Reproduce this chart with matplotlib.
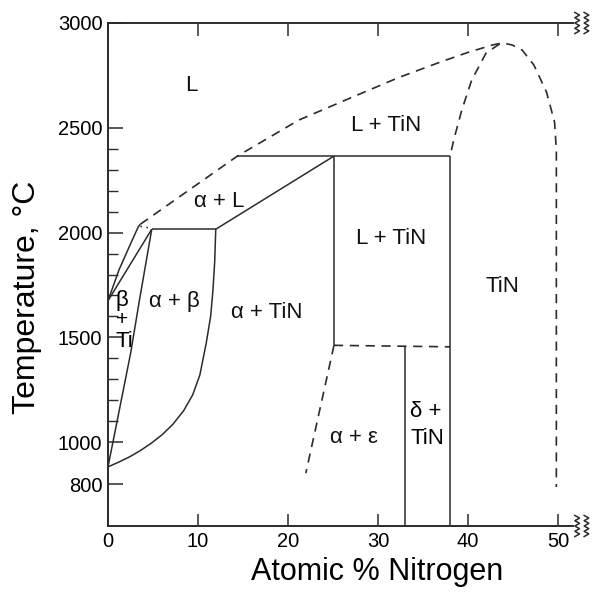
import numpy as np
import matplotlib
matplotlib.use('Agg')
import matplotlib.pyplot as plt
from matplotlib.ticker import FixedLocator

plt.rcParams['font.family'] = ['Liberation Sans', 'DejaVu Sans']

# ---- phase boundaries (at.% N, deg C) ----
# solid lines
beta_liq_x = [0, 1.22, 2.7, 3.37, 3.6]
beta_liq_y = [1675, 1822, 1965, 2028, 2040]
beta_sol_x = [0, 4.86]
beta_sol_y = [1675, 2016]
ab_left_x = [0, 2.52, 3.44, 4.86]
ab_left_y = [882, 1426, 1664, 2016]
ab_right_x = [0, 1.2, 2.4, 3.6, 4.8, 6.0, 7.2, 8.4, 9.4, 10.2, 10.9,
              11.4, 11.65, 11.85, 11.97]
ab_right_y = [882, 905, 930, 960, 995, 1035, 1085, 1150, 1225, 1320, 1470,
              1600, 1720, 1860, 2016]
peri_low_x = [4.86, 11.97]
peri_low_y = [2016, 2016]
aL_x = [11.97, 25.1]
aL_y = [2016, 2365]
peri_high_x = [14.37, 38.0]
peri_high_y = [2365, 2365]
v25_x = [25.1, 25.1]
v25_y = [2365, 1462]
v38_x = [38.0, 38.0]
v38_y = [2365, 600]
v33_x = [33.0, 33.0]
v33_y = [1456, 600]

# dashed lines
dot_x = [3.6, 4.86]
dot_y = [2030, 2020]
liq_x = [3.6, 14.37, 21.2, 26.8, 32.3, 37.0, 40.0, 42.7, 43.8,
         44.9, 46.0, 47.3, 48.7, 49.6, 49.8, 49.8]
liq_y = [2040, 2365, 2537, 2640, 2740, 2815, 2860, 2895, 2905,
         2895, 2871, 2800, 2671, 2528, 2394, 786]
tin_left_x = [43.5, 42.0, 40.4, 39.3, 38.4, 38.0]
tin_left_y = [2900, 2857, 2728, 2585, 2442, 2365]
eut_x = [25.1, 38.0]
eut_y = [1462, 1455]
ae_x = [25.1, 21.97]
ae_y = [1462, 852]

# region labels
labels = ['L', 'L + TiN', 'α + L', 'L + TiN', 'TiN', 'α + β', 'α + TiN', 'α + ε']
label_x = [9.2, 30.85, 12.3, 31.4, 43.8, 7.33, 17.6, 27.3]
label_y = [2704, 2513, 2147, 1973, 1742, 1670, 1621, 1023]

x_ticks = [0, 10, 20, 30, 40, 50]
y_ticks = [800, 1000, 1500, 2000, 2500, 3000]
y_minor = [1100, 1200, 1300, 1400, 1600, 1700, 1800, 1900,
           2100, 2200, 2300, 2400]

ink = '#2b2b2b'
fig = plt.figure(figsize=(5.95, 5.92), dpi=100)
ax = fig.add_axes([108 / 595, 1 - 526 / 592, 465 / 595, 503 / 592])

solid = dict(color=ink, lw=1.1, solid_capstyle='butt', solid_joinstyle='round')
for xs, ys in [(beta_liq_x, beta_liq_y), (beta_sol_x, beta_sol_y),
               (ab_left_x, ab_left_y), (ab_right_x, ab_right_y),
               (peri_low_x, peri_low_y), (aL_x, aL_y),
               (peri_high_x, peri_high_y), (v25_x, v25_y),
               (v38_x, v38_y), (v33_x, v33_y)]:
    ax.plot(xs, ys, **solid)

dashed = dict(color=ink, lw=1.2, linestyle=(0, (5.5, 4)))
for xs, ys in [(liq_x, liq_y), (tin_left_x, tin_left_y),
               (eut_x, eut_y), (ae_x, ae_y)]:
    ax.plot(xs, ys, **dashed)
ax.plot(dot_x, dot_y, color=ink, lw=1.1, linestyle=(0, (1, 3)))

fs = 16
for t, x, y in zip(labels, label_x, label_y):
    ax.text(x, y, t, fontsize=fs, ha='center', va='center', color='#111111')
ax.text(1.52, 1678, 'β', fontsize=fs, ha='center', va='center')
ax.text(1.52, 1583, '+', fontsize=15, ha='center', va='center')
ax.text(1.78, 1479, 'Ti', fontsize=fs, ha='center', va='center')
ax.text(33.6, 1146, 'δ +', fontsize=fs, ha='left', va='center')
ax.text(33.6, 1018, 'TiN', fontsize=fs, ha='left', va='center')

ax.set_xlim(0, 51.65)
ax.set_ylim(600, 3000)
ax.set_xticks(x_ticks)
ax.set_yticks(y_ticks)
ax.yaxis.set_minor_locator(FixedLocator(y_minor))
ax.tick_params(axis='x', direction='in', top=True, length=9, width=1.1,
               color=ink, labelsize=14.5, pad=4)
ax.tick_params(axis='y', which='major', direction='in', length=11,
               width=1.1, color=ink, labelsize=14.5, pad=4)
ax.tick_params(axis='y', which='minor', direction='in', length=7,
               width=1.0, color=ink)
ax.spines['right'].set_visible(False)
for s in ['left', 'top', 'bottom']:
    ax.spines[s].set_color(ink)
    ax.spines[s].set_linewidth(1.4)

ax.set_xlabel('Atomic % Nitrogen', fontsize=22)
ax.xaxis.set_label_coords(0.578, -0.062)
ax.set_ylabel('Temperature, °C', fontsize=23)
ax.yaxis.set_label_coords(-0.141, 0.455)

# axis break squiggles at the right ends of top and bottom spines
zz_t = np.linspace(0, 1, 9)
zz_dx = np.where(np.arange(9) % 2 == 0, -1.0, 1.0) * 0.005
for yc in [1.0, 0.0]:
    for xc in [1.009, 1.029]:
        ax.plot(xc + zz_dx, yc - 0.021 + 0.042 * zz_t, color=ink, lw=1.1,
                transform=ax.transAxes, clip_on=False)

plt.savefig('out.png', dpi=100)
plt.close()
